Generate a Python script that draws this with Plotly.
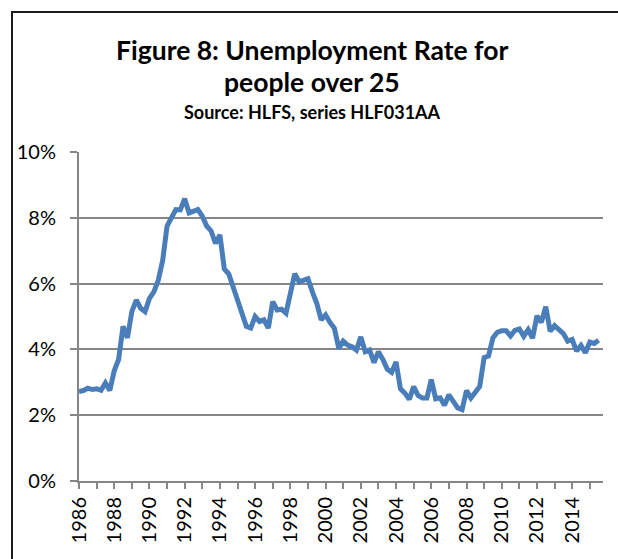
import plotly.graph_objects as go

# Quarterly unemployment rate (%) for people aged over 25, 1986 Q1 onward
start_year = 1986
rate_pct = [
    2.72, 2.75, 2.82, 2.78, 2.80, 2.76, 2.98, 2.75,   # 1986-1987
    3.35, 3.70, 4.70, 4.35, 5.15, 5.50, 5.25, 5.15,   # 1988-1989
    5.55, 5.75, 6.10, 6.70, 7.75, 8.00, 8.25, 8.24,   # 1990-1991
    8.58, 8.15, 8.22, 8.25, 8.05, 7.75, 7.60, 7.22,   # 1992-1993
    7.48, 6.45, 6.30, 5.90, 5.60, 5.10, 4.70, 4.65,   # 1994-1995
    5.00, 4.85, 4.90, 4.65, 5.45, 5.20, 5.22, 5.10,   # 1996-1997
    5.80, 6.30, 6.05, 6.10, 6.15, 5.75, 5.40, 4.90,   # 1998-1999
    5.05, 4.82, 4.64, 4.03, 4.25, 4.13, 4.08, 3.98,   # 2000-2001
    4.38, 3.93, 3.98, 3.60, 3.93, 3.70, 3.40, 3.30,   # 2002-2003
    3.62, 2.80, 2.67, 2.48, 2.87, 2.60, 2.52, 2.52,   # 2004-2005
    3.08, 2.50, 2.53, 2.30, 2.62, 2.42, 2.22, 2.17,   # 2006-2007
    2.75, 2.52, 2.70, 2.87, 3.75, 3.80, 4.35, 4.52,   # 2008-2009
    4.57, 4.57, 4.41, 4.58, 4.62, 4.40, 4.60, 4.34,   # 2010-2011
    5.02, 4.82, 5.30, 4.55, 4.72, 4.58, 4.48, 4.25,   # 2012-2013
    4.30, 3.95, 4.12, 3.90, 4.22, 4.18, 4.28,         # 2014-2015
]
quarter_x = [start_year + i / 4 for i in range(len(rate_pct))]
rate = [v / 100 for v in rate_pct]

# Axis ticks: a mark every year, a label every second year
year_ticks = list(range(1986, 2016))
year_labels = [str(y) if (y - 1986) % 2 == 0 else "" for y in year_ticks]
pct_ticks = [0, 0.02, 0.04, 0.06, 0.08, 0.10]

title_lines = ["Figure 8: Unemployment Rate for", "people over 25"]
subtitle = "Source: HLFS, series HLF031AA"

W, H = 618, 559
L, R, T, B = 79, 15, 152, 78
pw, ph = W - L - R, H - T - B


def px_x(x):
    return (x - L) / pw


def px_y(y):
    return (H - B - y) / ph


grid = "#868686"
font = "Lato"

fig = go.Figure(
    go.Scatter(
        x=quarter_x,
        y=rate,
        mode="lines",
        line=dict(color="#4A7EBB", width=5),
        hoverinfo="skip",
    )
)

fig.update_layout(
    width=W,
    height=H,
    margin=dict(l=L, r=R, t=T, b=B),
    paper_bgcolor="white",
    plot_bgcolor="white",
    showlegend=False,
    font=dict(family=font, size=20, color="black"),
)

fig.update_xaxes(
    range=[1986, 2015.75],
    tickvals=year_ticks,
    ticktext=year_labels,
    tickangle=-90,
    ticks="outside",
    ticklen=6,
    tickwidth=2,
    tickcolor=grid,
    showgrid=False,
    zeroline=False,
    showline=True,
    linecolor=grid,
    linewidth=2,
    tickfont=dict(family=font, size=20),
)

fig.update_yaxes(
    range=[0, 0.10],
    tickvals=pct_ticks,
    tickformat=".0%",
    ticks="outside",
    ticklen=7,
    tickwidth=2,
    tickcolor=grid,
    ticklabelstandoff=10,
    showgrid=True,
    gridcolor=grid,
    gridwidth=2,
    zeroline=False,
    showline=True,
    linecolor=grid,
    linewidth=2,
    tickfont=dict(family=font, size=20),
)

# Chart-area frame
fig.add_shape(
    type="rect",
    xref="paper",
    yref="paper",
    x0=px_x(12),
    x1=px_x(630),
    y0=px_y(575),
    y1=px_y(12),
    line=dict(color="#1a1a1a", width=2),
    fillcolor="rgba(0,0,0,0)",
    layer="above",
)

cx = px_x(312)
for text, ypx, size in [
    (title_lines[0], 50, 26.5),
    (title_lines[1], 82, 26.5),
    (subtitle, 112, 18),
]:
    fig.add_annotation(
        text=f"<b>{text}</b>",
        xref="paper",
        yref="paper",
        x=cx,
        y=px_y(ypx),
        xanchor="center",
        yanchor="middle",
        showarrow=False,
        font=dict(family=font, size=size, color="black"),
    )

fig.write_html("out.html")
